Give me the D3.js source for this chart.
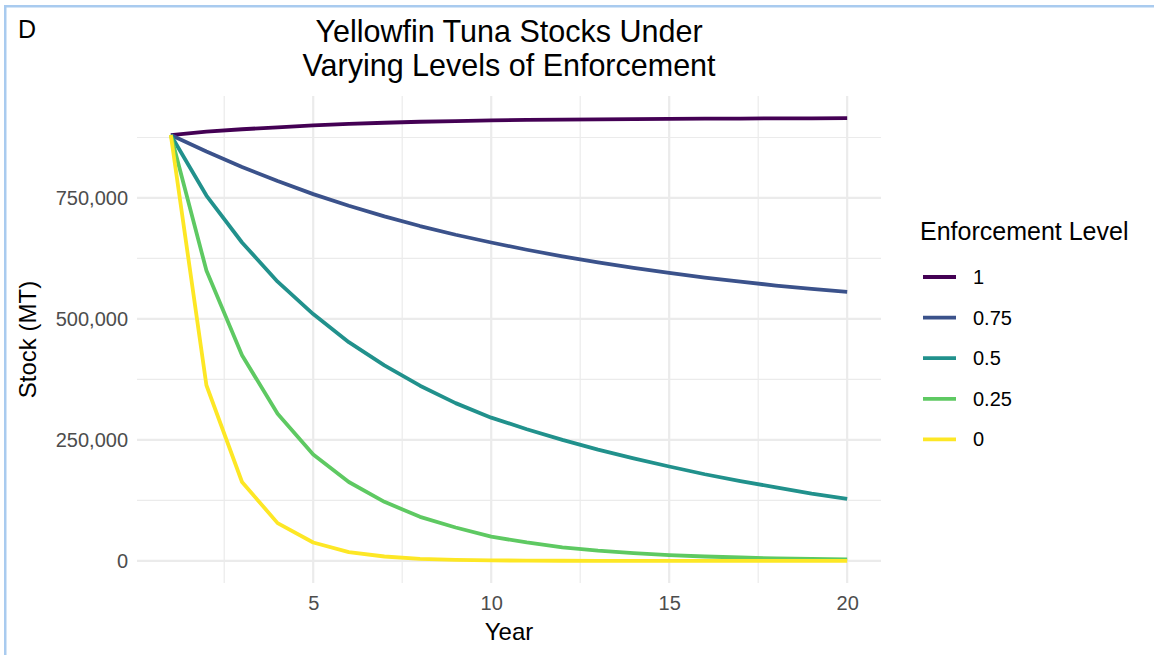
<!DOCTYPE html>
<html>
<head>
<meta charset="utf-8">
<script src="https://cdn.jsdelivr.net/npm/d3@7"></script>
<style>
  body { margin: 0; background: #fff; }
  text { font-family: "Liberation Sans", Arial, Helvetica, sans-serif; }
</style>
</head>
<body>
<svg id="chart" width="1154" height="655"></svg>
<script>
// years and stock (thousand MT) per enforcement level
var years = d3.range(1, 21);
var levels = ["1", "0.75", "0.5", "0.25", "0"];
var stock1   = [880, 887, 892, 896, 900, 903, 905.5, 907.5, 909, 910.5, 911.5, 912, 912.5, 913, 913.5, 914, 914, 914.5, 914.5, 915];
var stock075 = [880, 846, 814, 785, 758, 734, 712, 692, 674, 658, 643, 629.5, 617, 605.5, 595, 585.5, 577, 569, 562, 556];
var stock05  = [880, 755, 658, 577, 510, 452, 404, 362, 326, 296, 272, 250, 230, 212, 195, 179, 165, 152, 139, 128];
var stock025 = [880, 600, 425, 304, 220, 163, 122, 91, 69, 50, 38, 28, 21, 16, 12, 9, 7, 5, 4, 3];
var stock0   = [880, 363, 163, 78, 38, 18, 9, 4, 2, 1, 0.5, 0.2, 0.1, 0.05, 0, 0, 0, 0, 0, 0];
var yMajor = [0, 250000, 500000, 750000];
var yMinor = [125000, 375000, 625000, 875000];
var xMajor = [5, 10, 15, 20];
var xMinor = [2.5, 7.5, 12.5, 17.5];

var allStock = [stock1, stock075, stock05, stock025, stock0];
var series = levels.map(function(lv, i) {
  return { level: lv, values: years.map(function(yr, j) { return { x: yr, y: allStock[i][j] * 1000 }; }) };
});

var colors = d3.scaleOrdinal().domain(levels)
  .range(levels.map(function(d, i) { return d3.interpolateViridis(i / (levels.length - 1)); }));

var svg = d3.select("#chart");
var pLeft = 137, pRight = 881, pTop = 96, pBottom = 583;

// ggplot style 5% expansion
var xPad = (20 - 1) * 0.05;
var yMax = 915000, yPad = yMax * 0.05;
var x = d3.scaleLinear().domain([1 - xPad, 20 + xPad]).range([pLeft, pRight]);
var y = d3.scaleLinear().domain([-yPad, yMax + yPad]).range([pBottom, pTop]);

// frame of the screenshot
svg.append("rect").attr("x", 4).attr("y", 5).attr("width", 1150).attr("height", 2.5).attr("fill", "#a9cbef");
svg.append("rect").attr("x", 4).attr("y", 5).attr("width", 2.5).attr("height", 650).attr("fill", "#a9cbef");

var grid = svg.append("g");
grid.selectAll(".ymin").data(yMinor).enter().append("line")
  .attr("x1", pLeft).attr("x2", pRight)
  .attr("y1", function(d) { return y(d); }).attr("y2", function(d) { return y(d); })
  .attr("stroke", "#ebebeb").attr("stroke-width", 1.2);
grid.selectAll(".xmin").data(xMinor).enter().append("line")
  .attr("y1", pTop).attr("y2", pBottom)
  .attr("x1", function(d) { return x(d); }).attr("x2", function(d) { return x(d); })
  .attr("stroke", "#ebebeb").attr("stroke-width", 1.2);
grid.selectAll(".ymaj").data(yMajor).enter().append("line")
  .attr("x1", pLeft).attr("x2", pRight)
  .attr("y1", function(d) { return y(d); }).attr("y2", function(d) { return y(d); })
  .attr("stroke", "#ebebeb").attr("stroke-width", 2.2);
grid.selectAll(".xmaj").data(xMajor).enter().append("line")
  .attr("y1", pTop).attr("y2", pBottom)
  .attr("x1", function(d) { return x(d); }).attr("x2", function(d) { return x(d); })
  .attr("stroke", "#ebebeb").attr("stroke-width", 2.2);

// axes (labels only)
var yAxis = d3.axisLeft(y).tickValues(yMajor).tickSize(0).tickPadding(9).tickFormat(d3.format(","));
var gy = svg.append("g").attr("transform", "translate(" + pLeft + ",0)").call(yAxis);
gy.select(".domain").remove();
gy.attr("font-size", null).attr("font-family", null);
gy.selectAll("text").attr("font-size", 20).attr("fill", "#4d4d4d");

var xAxis = d3.axisBottom(x).tickValues(xMajor).tickSize(0).tickPadding(13);
var gx = svg.append("g").attr("transform", "translate(0," + pBottom + ")").call(xAxis);
gx.select(".domain").remove();
gx.attr("font-size", null).attr("font-family", null);
gx.selectAll("text").attr("font-size", 20).attr("fill", "#4d4d4d");

// lines
var line = d3.line()
  .x(function(d) { return x(d.x); })
  .y(function(d) { return y(d.y); });

svg.append("g").selectAll("path").data(series).enter()
  .append("path")
  .attr("d", function(d) { return line(d.values); })
  .attr("stroke", function(d) { return colors(d.level); })
  .attr("stroke-width", 3.8)
  .attr("stroke-linejoin", "round")
  .attr("fill", "none");

// titles
var midX = (pLeft + pRight) / 2;
svg.append("text").attr("x", midX).attr("y", 42).attr("text-anchor", "middle")
  .attr("font-size", 30.5).text("Yellowfin Tuna Stocks Under");
svg.append("text").attr("x", midX).attr("y", 76).attr("text-anchor", "middle")
  .attr("font-size", 30.5).text("Varying Levels of Enforcement");
svg.append("text").attr("x", 18).attr("y", 38).attr("font-size", 25).text("D");

svg.append("text").attr("x", midX).attr("y", 640).attr("text-anchor", "middle")
  .attr("font-size", 24).text("Year");
svg.append("text").attr("transform", "translate(36," + ((pTop + pBottom) / 2) + ") rotate(-90)")
  .attr("text-anchor", "middle").attr("font-size", 24).text("Stock (MT)");

// legend
var legend = svg.append("g");
legend.append("text").attr("x", 920).attr("y", 240).attr("font-size", 25).text("Enforcement Level");
var item = legend.selectAll(".item").data(levels).enter().append("g")
  .attr("transform", function(d, i) { return "translate(923," + (277 + i * 40.6) + ")"; });
item.append("line").attr("x1", 0).attr("x2", 33)
  .attr("stroke", function(d) { return colors(d); }).attr("stroke-width", 3.8);
item.append("text").attr("x", 50).attr("dy", "0.35em").attr("font-size", 20)
  .text(function(d) { return d; });
</script>
</body>
</html>
